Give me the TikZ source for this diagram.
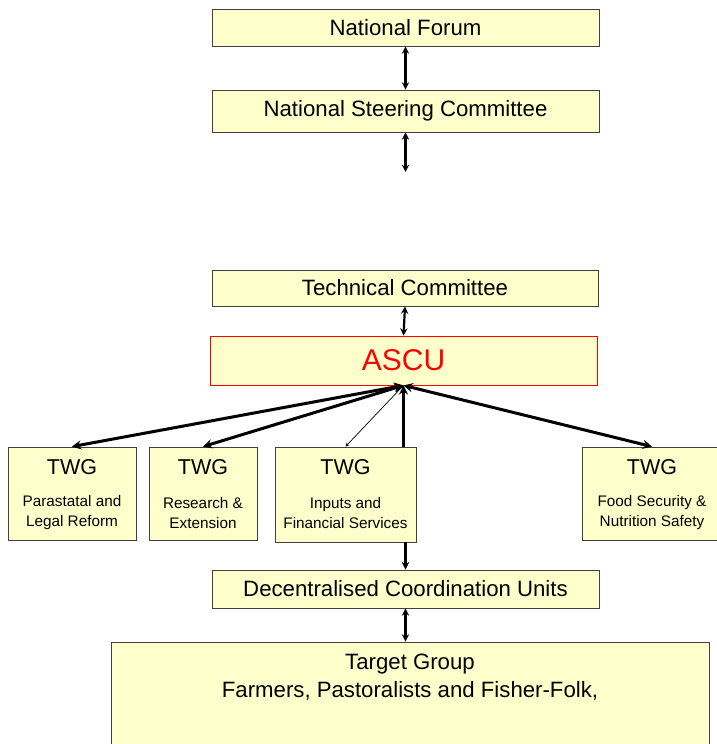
\documentclass[tikz,border=0pt]{standalone}
\usepackage{fontspec}
\setmainfont{Liberation Sans}
\usepackage{xcolor}
\definecolor{boxfill}{HTML}{FFFFCC}
\definecolor{boxline}{HTML}{404040}

\begin{document}
\begin{tikzpicture}[x=1pt,y=-1pt,> = stealth,
	box/.style={draw=boxline,fill=boxfill,line width=0.8pt,inner sep=0pt,
		minimum width=387pt,font=\fontsize{22.2}{26}\selectfont},
	twgbox/.style={draw=boxline,fill=boxfill,line width=0.8pt,inner sep=0pt,minimum height=93pt},
	twgtitle/.style={font=\fontsize{21.5}{25}\selectfont},
	twgsub/.style={align=center,font=\fontsize{15.3}{20}\selectfont},
	link/.style={<->,line width=2.2pt},
	twglink/.style={<->,line width=3pt}]
			\clip (0,0) rectangle (717,744);
			
			% Upper boxes
			\node[box,minimum height=37pt] (forum) at (405.5,27.5) {National Forum};
			\node[box,minimum height=42pt] (nsc) at (405.5,111) {National Steering Committee};
			\coordinate (nscend) at (405.5,172);
			\node[box,minimum height=36pt,minimum width=386pt] (tc) at (405,288) {Technical Committee};
			\node[box,draw=red,minimum height=49pt,text=red,font=\fontsize{30}{34}\selectfont] (ascu) at (403.5,360.5) {ASCU};
			
			% Working groups
			\node[twgbox,minimum width=128pt] (twg1) at (72,493.5) {};
			\node[twgbox,minimum width=108pt] (twg2) at (203,493.5) {};
			\node[twgbox,minimum width=141pt,minimum height=95pt] (twg3) at (345.5,494.5) {};
			\node[twgbox,minimum width=140pt] (twg4) at (652,493.5) {};
			
			\node[twgtitle] (twg1t) at ([yshift=-20pt]twg1.north) {TWG};
			\node[twgtitle] (twg2t) at ([yshift=-20pt]twg2.north) {TWG};
			\node[twgtitle] (twg3t) at ([yshift=-20pt]twg3.north) {TWG};
			\node[twgtitle] (twg4t) at ([yshift=-20pt]twg4.north) {TWG};
			\node[twgsub] (twg1s) at ([yshift=-66pt]twg1.north) {Parastatal and\\Legal Reform};
			\node[twgsub] (twg2s) at ([yshift=-66pt]twg2.north) {Research \&\\Extension};
			\node[twgsub] (twg3s) at ([yshift=-66pt]twg3.north) {Inputs and\\Financial Services};
			\node[twgsub] (twg4s) at ([yshift=-66pt]twg4.north) {Food Security \&\\Nutrition Safety};
			
			% Lower boxes
			\node[box,minimum height=38pt] (dcu) at (405.5,589) {Decentralised Coordination Units};
			\node[box,minimum width=598pt,minimum height=118pt] (target) at (410,701) {};
			\node[align=center,font=\fontsize{22.2}{28}\selectfont] (targett) at (410,677)
				{Target Group\\Farmers, Pastoralists and Fisher-Folk,};
			
			% Arrows
			\draw[link] (forum.south) -- (nsc.north);
			\draw[link] (nsc.south) -- (nscend);
			\draw[link] (tc.south) -- (ascu.north);
			\draw[twglink] (ascu.south) -- (twg1.north);
			\draw[twglink] (ascu.south) -- (twg2.north);
			\draw[<->,line width=0.7pt] (ascu.south) -- (twg3.north);
			\draw[->,line width=3pt] (twg3.north -| ascu.south) -- (ascu.south);
			\draw[twglink] (ascu.south) -- (twg4.north);
			\draw[->,line width=2.4pt] (dcu.north |- twg3.south) -- (dcu.north);
			\draw[link] (dcu.south) -- (dcu.south |- target.north);
		\end{tikzpicture}
\end{document}
